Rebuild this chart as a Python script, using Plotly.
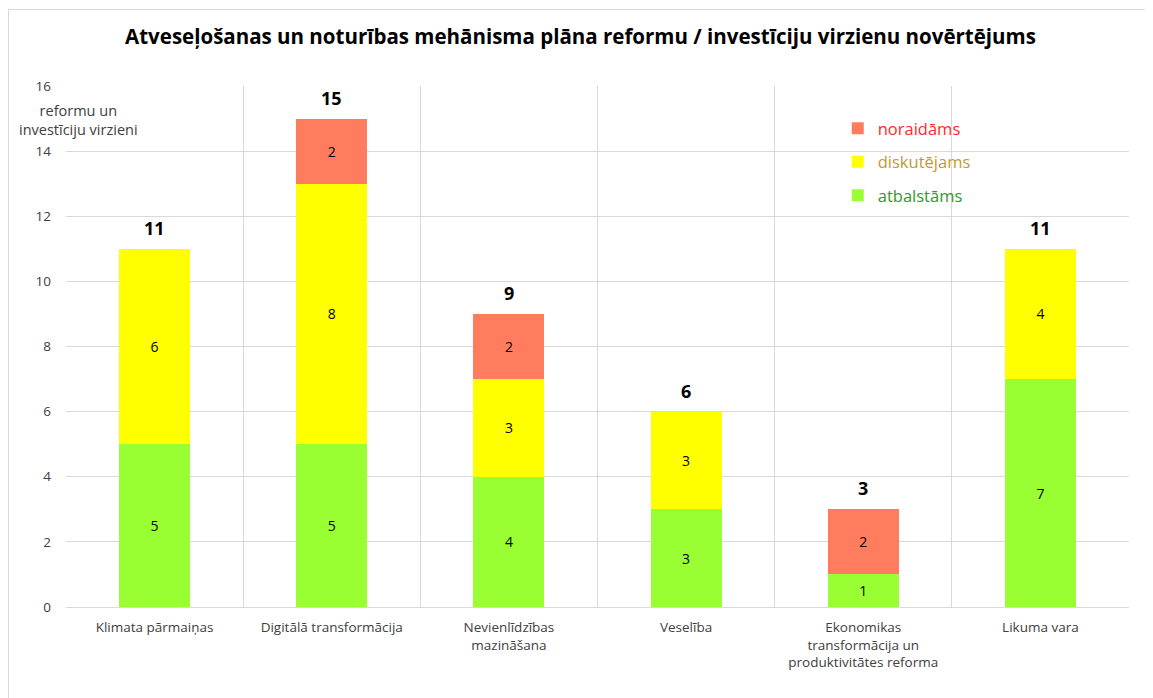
import plotly.graph_objects as go

kategorijas = [
    "Klimata pārmaiņas",
    "Digitālā transformācija",
    "Nevienlīdzības<br>mazināšana",
    "Veselība",
    "Ekonomikas<br>transformācija un<br>produktivitātes reforma",
    "Likuma vara",
]
atbalstams = [5, 5, 4, 3, 1, 7]
diskutejams = [6, 8, 3, 3, 0, 4]
noraidams = [0, 2, 2, 0, 2, 0]
kopa = [a + d + n for a, d, n in zip(atbalstams, diskutejams, noraidams)]

FONTS = "'Open Sans', 'Noto Sans', sans-serif"

# lapas body atkāpe ir 8px, tāpēc izmēri ir par 8px mazāki
W, H = 1145, 690
L, R, T, B = 58, 24, 78, 91


def etiketes(vertibas):
    # tukšas etiķetes nulles vērtībām
    return [str(v) if v else "" for v in vertibas]


fig = go.Figure()

serijas = [
    ("atbalstāms", atbalstams, "#99ff33", "#2e9a2e", 3),
    ("diskutējams", diskutejams, "#ffff00", "#bf9b30", 2),
    ("noraidāms", noraidams, "#ff7c5f", "#ff2a2a", 1),
]
for nosaukums, vertibas, krasa, teksta_krasa, rangs in serijas:
    fig.add_trace(go.Bar(
        x=kategorijas,
        y=vertibas,
        name=f"<span style='color:{teksta_krasa}'>{nosaukums}</span>",
        legendgroup=nosaukums,
        legendrank=rangs,
        marker=dict(color=krasa, line=dict(width=0)),
        width=0.4,
        text=etiketes(vertibas),
        textposition="inside",
        insidetextanchor="middle",
        textangle=0,
        textfont=dict(size=14, color="#000000", family=FONTS),
        hoverinfo="skip",
    ))

for kat, k in zip(kategorijas, kopa):
    fig.add_annotation(
        x=kat, y=k, text=f"<b>{k}</b>", showarrow=False,
        yshift=21, font=dict(size=18, color="#000000", family=FONTS),
    )

fig.add_annotation(
    xref="paper", yref="paper", x=0.0113, y=0.935,
    xanchor="center", yanchor="middle",
    text="reformu un<br>investīciju virzieni", showarrow=False,
    font=dict(size=14.5, color="#404040", family=FONTS), align="center",
)

# diagrammas rāmis (redzama tikai kreisā un augšējā mala)
pw = W - L - R
ph = H - T - B
x_kreisa = (-L + 0.5) / pw
y_augsa = 1 + (T - 1.5) / ph
fig.add_shape(type="line", xref="paper", yref="paper",
              x0=x_kreisa, x1=x_kreisa, y0=-B / ph, y1=y_augsa,
              line=dict(color="#d9d9d9", width=1))
fig.add_shape(type="line", xref="paper", yref="paper",
              x0=x_kreisa, x1=1 + R / pw, y0=y_augsa, y1=y_augsa,
              line=dict(color="#d9d9d9", width=1))

fig.update_layout(
    width=W,
    height=H,
    barmode="stack",
    plot_bgcolor="white",
    paper_bgcolor="white",
    margin=dict(l=L, r=R, t=T, b=B),
    font=dict(family=FONTS, color="#404040"),
    title=dict(
        text="<b>Atveseļošanas un noturības mehānisma plāna reformu / investīciju virzienu novērtējums</b>",
        x=0.5, xanchor="center", y=1 - 29 / H, yanchor="middle",
        font=dict(size=20.5, color="#000000", family=FONTS),
    ),
    legend=dict(
        x=0.726, y=0.952, xanchor="left", yanchor="top",
        traceorder="grouped",
        tracegroupgap=9,
        font=dict(size=16.5, family=FONTS),
        bgcolor="rgba(0,0,0,0)",
    ),
    showlegend=True,
)

fig.update_xaxes(
    tickson="boundaries",
    showgrid=True,
    gridcolor="#d9d9d9",
    showline=True,
    linecolor="#d9d9d9",
    ticks="",
    ticklabelstandoff=8,
    tickfont=dict(size=13.5, color="#404040", family=FONTS),
)
fig.update_yaxes(
    range=[0, 16],
    dtick=2,
    showgrid=True,
    gridcolor="#d9d9d9",
    zeroline=False,
    ticks="",
    ticklabelstandoff=14,
    tickfont=dict(size=13.5, color="#404040", family=FONTS),
)

fig.write_html("out.html")
